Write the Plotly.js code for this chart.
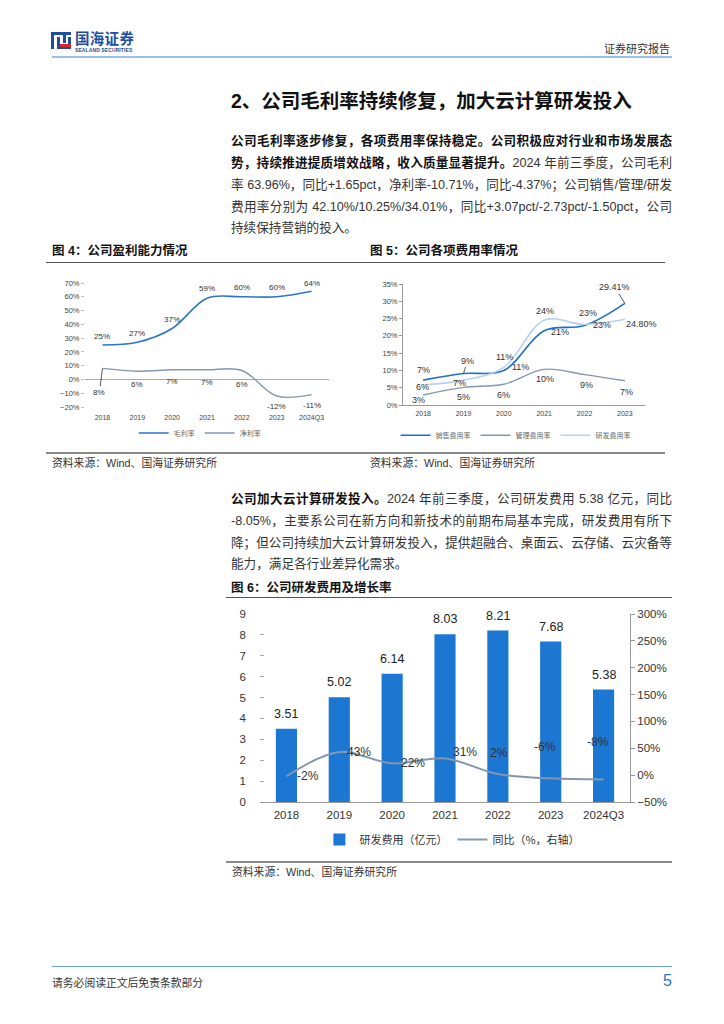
<!DOCTYPE html>
<html><head><meta charset="utf-8">
<script src="https://cdn.plot.ly/plotly-3.0.1.min.js"></script>
<style>
body{margin:0;background:#fff;}
#page{position:relative;width:724px;height:1024px;overflow:hidden;font-family:"Liberation Sans","Noto Sans CJK SC",sans-serif;color:#333;}
.abs{position:absolute;}
.ln{position:absolute;left:231px;width:441px;height:22px;line-height:22px;font-size:12.6px;text-align:justify;text-align-last:justify;color:#333;}
.ln.last{text-align-last:left;}
b{font-weight:700;color:#111;}
.cap{position:absolute;font-size:12.5px;font-weight:700;color:#111;line-height:16px;}
.src{position:absolute;font-size:10.8px;color:#333;line-height:14px;}
.rule{position:absolute;height:0;}
</style></head>
<body><div id="page">

<!-- header -->
<div class="abs" style="left:51px;top:32px;width:20px;height:17px;">
  <div class="abs" style="left:0;top:0;width:20px;height:3px;background:#1F4E9E;"></div>
  <div class="abs" style="left:0;top:0;width:3px;height:17px;background:#1F4E9E;"></div>
  <div class="abs" style="left:6px;top:5px;width:3px;height:12px;background:#1F4E9E;"></div>
  <div class="abs" style="left:12px;top:0;width:3px;height:11px;background:#1F4E9E;"></div>
  <div class="abs" style="left:17px;top:5px;width:3px;height:7px;background:#1F4E9E;"></div>
  <div class="abs" style="left:9px;top:12px;width:11px;height:2.5px;background:#D9262B;"></div>
  <div class="abs" style="left:9px;top:15px;width:11px;height:2px;background:#1F4E9E;"></div>
</div>
<div class="abs" style="left:75px;top:30px;font-size:14.5px;font-weight:700;color:#1F4E9E;font-family:'Noto Sans CJK SC';line-height:16px;height:16px;letter-spacing:0.3px;">国海证券</div>
<div class="abs" style="left:75px;top:47px;font-size:5px;color:#1F4E9E;line-height:6px;font-weight:700;letter-spacing:0.1px;">SEALAND SECURITIES</div>
<div class="abs" style="left:600px;top:41px;width:70px;text-align:right;font-size:11px;color:#333;font-family:'Noto Sans CJK SC';line-height:15px;">证券研究报告</div>
<div class="rule" style="left:52px;top:56px;width:620px;border-top:2px solid #9DC0E8;"></div>

<!-- title -->
<div class="abs" style="left:231px;top:87px;font-size:19.5px;font-weight:700;color:#111;line-height:28px;font-family:'Liberation Sans','Noto Sans CJK SC';">2、公司毛利率持续修复，加大云计算研发投入</div>

<!-- paragraph 1 -->
<div class="ln" style="top:130px;"><b>公司毛利率逐步修复，各项费用率保持稳定。公司积极应对行业和市场发展态</b></div>
<div class="ln" style="top:152px;"><b>势，持续推进提质增效战略，收入质量显著提升。</b>2024 年前三季度，公司毛利</div>
<div class="ln" style="top:174px;">率 63.96%，同比+1.65pct，净利率-10.71%，同比-4.37%；公司销售/管理/研发</div>
<div class="ln" style="top:196px;">费用率分别为 42.10%/10.25%/34.01%，同比+3.07pct/-2.73pct/-1.50pct，公司</div>
<div class="ln last" style="top:217px;">持续保持营销的投入。</div>

<!-- fig 4 / 5 captions -->
<div class="cap" style="left:52px;top:243px;">图 4：公司盈利能力情况</div>
<div class="rule" style="left:46px;top:262px;width:322px;border-top:1.2px solid #555;"></div>
<div class="cap" style="left:370px;top:243px;">图 5：公司各项费用率情况</div>
<div class="rule" style="left:360px;top:262px;width:305px;border-top:1.2px solid #555;"></div>

<div id="c4" class="abs" style="left:46px;top:268px;width:322px;height:180px;"></div>
<div id="c5" class="abs" style="left:360px;top:268px;width:305px;height:180px;"></div>

<div class="rule" style="left:46px;top:452px;width:322px;border-top:2px solid #8a8a8a;"></div>
<div class="src" style="left:52px;top:456px;">资料来源：Wind、国海证券研究所</div>
<div class="rule" style="left:360px;top:452px;width:305px;border-top:2px solid #8a8a8a;"></div>
<div class="src" style="left:370px;top:456px;">资料来源：Wind、国海证券研究所</div>

<!-- paragraph 2 -->
<div class="ln" style="top:488px;"><b>公司加大云计算研发投入。</b>2024 年前三季度，公司研发费用 5.38 亿元，同比</div>
<div class="ln" style="top:510px;">-8.05%，主要系公司在新方向和新技术的前期布局基本完成，研发费用有所下</div>
<div class="ln" style="top:532px;">降；但公司持续加大云计算研发投入，提供超融合、桌面云、云存储、云灾备等</div>
<div class="ln last" style="top:553px;">能力，满足各行业差异化需求。</div>

<div class="cap" style="left:231px;top:580px;">图 6：公司研发费用及增长率</div>
<div class="rule" style="left:226px;top:597px;width:446px;border-top:1.2px solid #555;"></div>

<div id="c6" class="abs" style="left:226px;top:600px;width:446px;height:255px;"></div>

<div class="rule" style="left:226px;top:861px;width:446px;border-top:2px solid #8a8a8a;"></div>
<div class="src" style="left:232px;top:865px;">资料来源：Wind、国海证券研究所</div>

<!-- footer -->
<div class="rule" style="left:52px;top:966px;width:620px;border-top:1.5px solid #6FA3DC;"></div>
<div class="abs" style="left:52px;top:975px;font-size:10.8px;color:#333;line-height:14px;font-family:'Noto Sans CJK SC';">请务必阅读正文后免责条款部分</div>
<div class="abs" style="left:660px;top:972px;width:12px;text-align:right;font-size:16px;color:#2E75C6;line-height:18px;">5</div>

</div>
<script>
// ---------- data ----------
const years4 = ['2018','2019','2020','2021','2022','2023','2024Q3'];
const grossMargin = [25, 27, 37, 59, 60, 60, 64];
const netMargin = [8, 6, 7, 7, 6.5, -12, -11];
const grossLabels = ['25%','27%','37%','59%','60%','60%','64%'];
const netLabels = ['8%','6%','7%','7%','6%','-12%','-11%'];

const years5 = ['2018','2019','2020','2021','2022','2023'];
const salesRate = [7.2, 9.1, 10, 21.5, 23, 29.41];
const adminRate = [2.9, 5.1, 6, 10.3, 8.8, 7];
const rdRate = [5.8, 7.2, 10.9, 24.5, 23.3, 24.8];
const salesLabels = ['7%','9%','11%','21%','23%','29.41%'];
const adminLabels = ['3%','5%','6%','10%','9%','7%'];
const rdLabels = ['6%','7%','11%','24%','23%','24.80%'];

const years6 = ['2018','2019','2020','2021','2022','2023','2024Q3'];
const rdExpense = [3.51, 5.02, 6.14, 8.03, 8.21, 7.68, 5.38];
const rdGrowth = [-2, 43, 22, 31, 2, -6, -8];
const rdGrowthLabels = ['-2%','43%','22%','31%','2%','-6%','-8%'];

// ---------- styles ----------
const FONT = '"Liberation Sans", "Noto Sans CJK SC", sans-serif';
const CJK = '"Noto Sans CJK SC", sans-serif';
const C_DARK = '#1F6FC8';
const C_GREY = '#8497B0';
const C_LIGHT = '#B7D2EF';
const C_BAR = '#1C77D2';
const cfg = {staticPlot:true, displayModeBar:false};

// annotation x uses the category index on category axes
function labels(xs, ys, texts, xref, yref, shifts, size) {
  return xs.map((x, i) => {
    const s = shifts[i];
    const a = {x:i, y:ys[i], xref:xref, yref:yref, text:texts[i],
      font:{family:FONT, size:size, color:'#333'}, showarrow:false,
      xshift:s[0], yshift:s[1]};
    if (s[2]) { a.showarrow = true; a.ax = s[2][0]; a.ay = s[2][1];
      a.arrowhead = 0; a.arrowwidth = 0.8; a.arrowcolor = '#333'; a.standoff = 0; a.xshift = 0; a.yshift = 0; }
    return a;
  });
}
function catRange(arr) { return [-0.5, arr.length - 0.5]; }

// ---------- chart 4 ----------
const shiftGross = [[0,9],[0,9],[0,9],[0,10],[0,9],[0,9],[0,8]];
const shiftNet = [[0,0,[-3,24]],[0,-13],[0,-12],[0,-13],[0,-14],[0,-11],[0,-11]];
Plotly.newPlot('c4', [
  {x:years4, y:grossMargin, name:'毛利率', type:'scatter', mode:'lines',
   line:{color:'#2E75C6', width:1.6, shape:'spline', smoothing:1}},
  {x:years4, y:netMargin, name:'净利率', type:'scatter', mode:'lines',
   line:{color:C_GREY, width:1.4, shape:'spline', smoothing:1}}
], {
  width:322, height:180, margin:{l:39, r:39, t:15, b:41, autoexpand:false},
  paper_bgcolor:'rgba(0,0,0,0)', plot_bgcolor:'rgba(0,0,0,0)',
  font:{family:FONT, size:7.5, color:'#444'},
  showlegend:true,
  legend:{orientation:'h', x:0.47, xanchor:'center', y:-0.21, yanchor:'middle',
    font:{family:CJK, size:7, color:'#666'}, itemwidth:30, bgcolor:'rgba(0,0,0,0)'},
  xaxis:{type:'category', range:catRange(years4), autorange:false, showline:false, showgrid:false, zeroline:false, ticks:'',
    ticklabelstandoff:5, tickfont:{size:7, color:'#444'}},
  yaxis:{range:[-20,70], autorange:false, dtick:10, ticksuffix:'%', showgrid:false, zeroline:true,
    zerolinecolor:'#aaa', zerolinewidth:1, showline:false, ticks:'outside', ticklen:3,
    tickcolor:'#bbb', tickfont:{size:7.5, color:'#444'}},
  annotations: labels(years4, grossMargin, grossLabels, 'x', 'y', shiftGross, 8)
    .concat(labels(years4, netMargin, netLabels, 'x', 'y', shiftNet, 8))
}, cfg);

// ---------- chart 5 ----------
const shiftSales = [[0,10],[0,0,[4,-13]],[1,13],[16,-1],[17,0],[0,0,[-10,-16]]];
const shiftRd = [[-1,-2],[-4,-3],[17,0],[1,9],[3,11],[17,-5]];
const shiftAdmin = [[-5,-5],[0,-10],[0,-11],[1,-10],[2,-10],[2,-11]];
Plotly.newPlot('c5', [
  {x:years5, y:salesRate, name:'销售费用率', type:'scatter', mode:'lines',
   line:{color:C_DARK, width:1.6, shape:'spline', smoothing:1}},
  {x:years5, y:adminRate, name:'管理费用率', type:'scatter', mode:'lines',
   line:{color:C_GREY, width:1.4, shape:'spline', smoothing:1}},
  {x:years5, y:rdRate, name:'研发费用率', type:'scatter', mode:'lines',
   line:{color:C_LIGHT, width:1.6, shape:'spline', smoothing:1}}
], {
  width:305, height:180, margin:{l:43, r:20, t:16, b:43, autoexpand:false},
  paper_bgcolor:'rgba(0,0,0,0)', plot_bgcolor:'rgba(0,0,0,0)',
  font:{family:FONT, size:7.5, color:'#444'},
  showlegend:true,
  legend:{orientation:'h', x:0.465, xanchor:'center', y:-0.25, yanchor:'middle',
    font:{family:CJK, size:7, color:'#666'}, itemwidth:30, bgcolor:'rgba(0,0,0,0)'},
  xaxis:{type:'category', range:catRange(years5), autorange:false, showline:true, linecolor:'#999', linewidth:1, showgrid:false,
    zeroline:false, ticks:'', ticklabelstandoff:2, tickfont:{size:7, color:'#444'}},
  yaxis:{range:[0,35], autorange:false, dtick:5, ticksuffix:'%', showgrid:false, zeroline:false,
    showline:true, linecolor:'#999', linewidth:1, ticks:'outside', ticklen:3,
    tickcolor:'#999', tickfont:{size:7.5, color:'#444'}},
  annotations: labels(years5, salesRate, salesLabels, 'x', 'y', shiftSales, 9)
    .concat(labels(years5, rdRate, rdLabels, 'x', 'y', shiftRd, 9))
    .concat(labels(years5, adminRate, adminLabels, 'x', 'y', shiftAdmin, 9))
}, cfg);

// ---------- chart 6 ----------
const shiftGrowth = [[22,0],[20,0],[21,0],[20,6],[1,21],[-6,31],[-6,37]];
const barLabelAnn = years6.map((x, i) => ({x:i, y:rdExpense[i], xref:'x', yref:'y',
  text:rdExpense[i].toFixed(2), showarrow:false, yanchor:'bottom', yshift:6,
  font:{family:FONT, size:12.5, color:'#222'}}));
Plotly.newPlot('c6', [
  {x:years6, y:rdExpense, name:'研发费用（亿元）', type:'bar', marker:{color:C_BAR}, yaxis:'y'},
  {x:years6, y:rdGrowth, name:'同比（%，右轴）', type:'scatter', mode:'lines', yaxis:'y2',
   line:{color:C_GREY, width:2, shape:'spline', smoothing:1}}
], {
  width:446, height:255, margin:{l:34, r:42, t:14, b:53, autoexpand:false},
  paper_bgcolor:'rgba(0,0,0,0)', plot_bgcolor:'rgba(0,0,0,0)',
  font:{family:FONT, size:11.5, color:'#333'},
  bargap:0.6,
  showlegend:true,
  legend:{orientation:'h', x:0.52, xanchor:'center', y:-0.2, yanchor:'middle',
    font:{family:CJK, size:11, color:'#333'}, itemwidth:30, bgcolor:'rgba(0,0,0,0)', traceorder:'normal'},
  xaxis:{type:'category', range:catRange(years6), autorange:false, showline:true, linecolor:'#999', linewidth:1, showgrid:false,
    zeroline:false, ticks:'', ticklabelstandoff:2, tickfont:{size:11.5, color:'#333'}},
  yaxis:{range:[0,9], autorange:false, dtick:1, showgrid:false, zeroline:false, showline:false,
    ticks:'inside', ticklen:4, tickcolor:'#aaa', ticklabelstandoff:13,
    tickfont:{size:11.5, color:'#333'}},
  yaxis2:{range:[-50,300], autorange:false, dtick:50, ticksuffix:'%', overlaying:'y', side:'right',
    showgrid:false, zeroline:false, showline:true, linecolor:'#999', linewidth:1,
    ticks:'outside', ticklen:4, tickcolor:'#999', tickfont:{size:11.5, color:'#333'}},
  annotations: barLabelAnn.concat(labels(years6, rdGrowth, rdGrowthLabels, 'x', 'y2', shiftGrowth, 12))
}, cfg);
</script>
</body></html>
